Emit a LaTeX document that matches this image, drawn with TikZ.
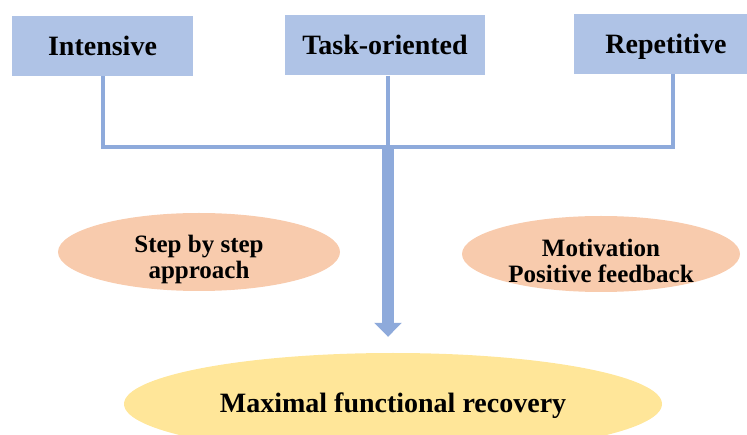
\documentclass[tikz,border=0pt]{standalone}
\usepackage{fontspec}
\setmainfont{Liberation Serif}
\usetikzlibrary{arrows.meta,shapes.geometric}
\definecolor{boxblue}{HTML}{AFC3E6}
\definecolor{lineblue}{HTML}{8EAADB}
\definecolor{salmon}{HTML}{F8CBAD}
\definecolor{gold}{HTML}{FFE699}
\tikzset{
  topbox/.style={fill=boxblue, draw=none, minimum height=60pt, inner sep=0pt,
    text height=25pt, text depth=6pt,
    font=\fontsize{28}{30}\selectfont\bfseries},
  oval/.style={ellipse, fill=salmon, draw=none, inner sep=0pt},
  ovaltext/.style={align=center, inner sep=0pt,
    font=\fontsize{25}{26}\selectfont\bfseries},
  goal/.style={ellipse, fill=gold, draw=none, inner sep=0pt},
  goaltext/.style={inner sep=0pt, font=\fontsize{28}{30}\selectfont\bfseries},
  conn/.style={draw=lineblue, line width=4pt},
  bigarrow/.style={draw=lineblue, fill=lineblue, line width=12pt,
    -{Triangle[width=27pt,length=14pt]}}
}
\begin{document}
\begin{tikzpicture}[x=1pt,y=-1pt]
\useasboundingbox (0,0) rectangle (747,435);
\clip (0,0) rectangle (747,435);
\node[topbox, minimum width=181pt] (int) at (102.5,46) {Intensive};
\node[topbox, minimum width=200pt] (task) at (385,45.5) {Task-oriented};
\node[topbox, minimum width=184pt] (rep) at (666,44) {Repetitive};
\coordinate (j) at (388,147);
\node[oval, minimum width=282pt, minimum height=78pt] (step) at (199,252) {};
\node[ovaltext] (steptext) at (199,259) {Step by step\\approach};
\node[oval, minimum width=278pt, minimum height=76pt] (mot) at (601,254) {};
\node[ovaltext] (mottext) at (601,261) {Motivation\\Positive feedback};
\node[goal, minimum width=538pt, minimum height=102pt] (rec) at (393,404) {};
\node[goaltext] (rect) at (393,406) {Maximal functional recovery};
\draw[conn] (int.south) |- (j);
\draw[conn] ([xshift=7pt]rep.south) |- (j);
\draw[conn] ([xshift=3pt]task.south) -- (j);
\draw[bigarrow] (j) -- ([yshift=16pt]rec.north -| j);
\end{tikzpicture}
\end{document}
